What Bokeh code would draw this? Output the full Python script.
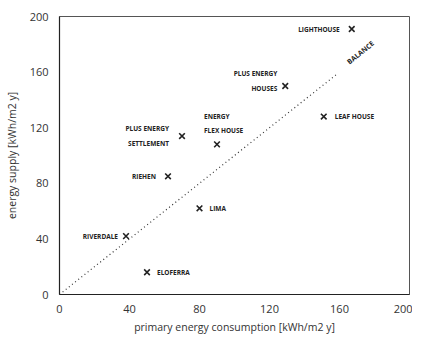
from bokeh.plotting import figure
from bokeh.models import ColumnDataSource, Range1d, FixedTicker
from bokeh.core.properties import value
from bokeh.embed import file_html
from bokeh.resources import INLINE

# data
names = ["LIGHTHOUSE", "PLUS ENERGY\nHOUSES", "LEAF HOUSE", "ENERGY\nFLEX HOUSE",
         "PLUS ENERGY\nSETTLEMENT", "RIEHEN", "LIMA", "RIVERDALE", "ELOFERRA"]
consumption = [167, 129, 151, 90, 70, 62, 80, 38, 50]
supply = [191, 150, 128, 108, 114, 85, 62, 42, 16]
balance_x = [0, 158]
balance_y = [0, 158]
balance_label = "BALANCE"
balance_label_pos = (172, 174)
ticks = [0, 40, 80, 120, 160, 200]

# label placement styles (pixels)
align = ["right", "right", "left", "left", "right", "right", "left", "right", "left"]
xoff = [-12, -8, 11, -13, -13, -12, 10, -8, 10]
yoff = [0, -5, 0, -21, 0, 0, 0, 0, 0]
base = ["middle"] * 9

FONT = "Open Sans"

p = figure(width=412, height=336, output_backend="svg", toolbar_location=None,
           x_range=Range1d(0, 200), y_range=Range1d(0, 200),
           min_border_left=59, min_border_right=3, min_border_top=16, min_border_bottom=42)
p.background_fill_color = "white"
p.border_fill_color = "white"
p.outline_line_color = "#555555"
p.outline_line_width = 1
p.xgrid.visible = False
p.ygrid.visible = False

for ax in (p.xaxis[0], p.yaxis[0]):
    ax.ticker = FixedTicker(ticks=ticks)
    ax.major_tick_out = 0
    ax.major_tick_in = 0
    ax.minor_tick_out = 0
    ax.minor_tick_in = 0
    ax.major_tick_line_color = None
    ax.minor_tick_line_color = None
    ax.axis_line_color = "#222222"
    ax.axis_line_width = 1.2
    ax.major_label_text_font = FONT
    ax.major_label_text_font_size = "11px"
    ax.major_label_text_color = "#333333"
    ax.axis_label_text_font = FONT
    ax.axis_label_text_font_size = "10.5px"
    ax.axis_label_text_font_style = "normal"
    ax.axis_label_text_color = "#333333"

p.xaxis[0].axis_label = "primary energy consumption [kWh/m2 y]"
p.yaxis[0].axis_label = "energy supply [kWh/m2 y]"
p.xaxis[0].major_label_standoff = 10
p.xaxis[0].axis_label_standoff = 4
p.yaxis[0].major_label_standoff = 11
p.yaxis[0].axis_label_standoff = 8

# balance line
p.line(balance_x, balance_y, line_dash="1 3", line_color="#333333", line_width=1.2)
p.text(x=[balance_label_pos[0]], y=[balance_label_pos[1]], text=[balance_label],
       angle=0.68, text_align="center", text_baseline="middle",
       text_font=value(FONT), text_font_size="7px", text_font_style="bold",
       text_color="#222222")

src = ColumnDataSource(dict(x=consumption, y=supply, name=names, align=align,
                            xoff=xoff, yoff=yoff, base=base))
p.scatter("x", "y", source=src, marker="x", size=8, line_width=1.6, line_color="#222222")
p.text("x", "y", text="name", source=src, x_offset="xoff", y_offset="yoff",
       text_align="align", text_baseline="base",
       text_font=value(FONT), text_font_size="6.5px", text_font_style="bold",
       text_color="#222222", text_line_height=1.6)

open("out.html", "w").write(file_html(p, INLINE))
